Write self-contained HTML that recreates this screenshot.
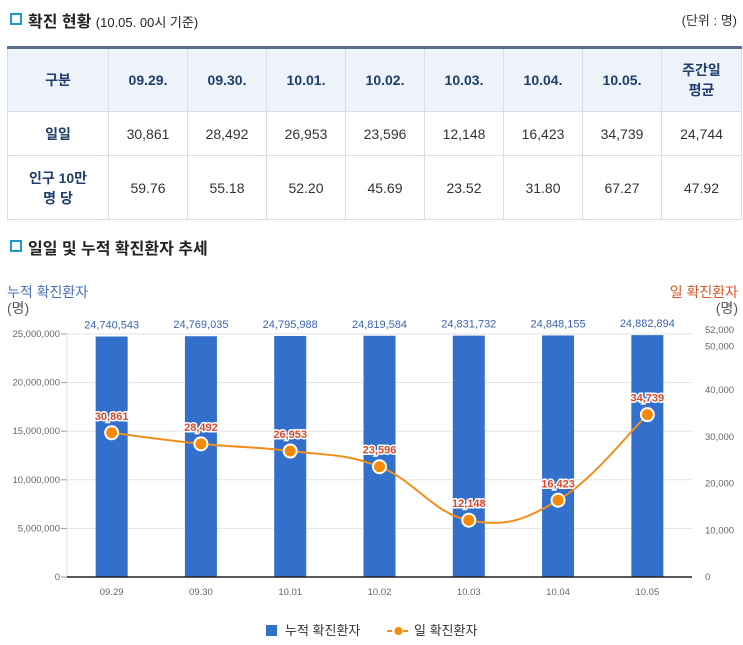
<!DOCTYPE html>
<html><head><meta charset="utf-8">
<style>
body{margin:0;width:743px;height:645px;background:#fff;font-family:"Liberation Sans","Noto Sans CJK KR",sans-serif;position:relative;overflow:hidden;color:#333}
.h{position:absolute;font-size:16px;color:#222;font-weight:bold}
.ico{position:absolute;width:8px;height:8px;border:2px solid #1a9bc7;background:#fff}
table{position:absolute;left:7px;top:46px;width:734px;border-collapse:collapse;font-size:14px;table-layout:fixed}
td,th{border:1px solid #d8dde6;text-align:center;padding:0;color:#333}
table{border-top:3px solid #5a6e8c}
th{background:#eef3fa;color:#1f3d6b;font-weight:bold;height:62px}
tr.r1 td{height:43px}tr.r2 td{height:63px}
td.l{font-weight:bold;color:#1f3d6b}
</style></head><body>
<div class="ico" style="left:10px;top:13px"></div>
<div class="h" style="left:28px;top:8px">확진 현황 <span style="font-size:13px;font-weight:normal">(10.05. 00시 기준)</span></div>
<div style="position:absolute;right:6px;top:10px;font-size:13px">(단위 : 명)</div>
<table>
<colgroup><col style="width:101px"><col span="7" style="width:79px"><col style="width:80px"></colgroup>
<tr><th>구분</th><th>09.29.</th><th>09.30.</th><th>10.01.</th><th>10.02.</th><th>10.03.</th><th>10.04.</th><th>10.05.</th><th>주간일<br>평균</th></tr>
<tr class="r1"><td class="l">일일</td><td>30,861</td><td>28,492</td><td>26,953</td><td>23,596</td><td>12,148</td><td>16,423</td><td>34,739</td><td>24,744</td></tr>
<tr class="r2"><td class="l">인구 10만<br>명 당</td><td>59.76</td><td>55.18</td><td>52.20</td><td>45.69</td><td>23.52</td><td>31.80</td><td>67.27</td><td>47.92</td></tr>
</table>
<div class="ico" style="left:10px;top:240px"></div>
<div class="h" style="left:28px;top:235px">일일 및 누적 확진환자 추세</div>
<svg id="c" width="743" height="645" style="position:absolute;left:0;top:0"></svg>
<script>
const categories=["09.29","09.30","10.01","10.02","10.03","10.04","10.05"];
const cumulative=[24740543,24769035,24795988,24819584,24831732,24848155,24882894];
const daily=[30861,28492,26953,23596,12148,16423,34739];
const leftTicks=[0,5000000,10000000,15000000,20000000,25000000];
const rightTicks=[0,10000,20000,30000,40000,50000,52000];
const svg=document.getElementById('c');const NS="http://www.w3.org/2000/svg";
const x0=67,x1=692,yb=577,yt=334;
const bw=(x1-x0)/categories.length;
const xc=i=>x0+bw*(i+0.5);
const yl=v=>yb-(v/25000000)*(yb-yt);
const yr=v=>yb-(v/52000)*(yb-yt);
const f=n=>n.toLocaleString('en-US');
function el(t,a,txt){const e=document.createElementNS(NS,t);for(const k in a)e.setAttribute(k,a[k]);if(txt!=null)e.textContent=txt;svg.appendChild(e);return e;}
let e;
e=el('text',{x:7,y:297,'font-size':14,fill:'#4a6fb5'},'누적 확진환자');


el('text',{x:7,y:313,'font-size':14,fill:'#555'},'(명)');
e=el('text',{x:738,y:297,'font-size':14,fill:'#d9542c','text-anchor':'end'},'일 확진환자');


el('text',{x:738,y:313,'font-size':14,fill:'#555','text-anchor':'end'},'(명)');
leftTicks.forEach(v=>{const y=yl(v);
 if(v>0){e=el('line',{x1:x0,x2:x1,y1:y,y2:y,stroke:'#e3e3e3'});}
 e=el('text',{x:60,y:y+3,'font-size':9.5,fill:'#666','text-anchor':'end'},f(v));
 
 
 el('line',{x1:61,x2:x0,y1:y,y2:y,stroke:'#999'});
});
el('line',{x1:x0,x2:x0,y1:yt,y2:yb,stroke:'#ddd'});
rightTicks.forEach(v=>{const y=yr(v);
 e=el('text',{x:705,y:y+(v===52000?-1:v===50000?6:3),'font-size':9.5,fill:'#666'},f(v));
 
 
});
categories.forEach((c,i)=>{
 e=el('rect',{x:xc(i)-16,y:yl(cumulative[i]),width:32,height:yb-yl(cumulative[i]),fill:'#3370cc'});
 
 
 e=el('text',{x:xc(i),y:yl(cumulative[i])-8,'font-size':11,fill:'#3b63b0','text-anchor':'middle'},f(cumulative[i]));
 
 
 e=el('text',{x:xc(i),y:yb+18,'font-size':9.5,fill:'#666','text-anchor':'middle'},c);
 
 
});
el('line',{x1:x0,x2:x1,y1:yb,y2:yb,stroke:'#222','stroke-width':1.5});
// smooth line (catmull-rom)
const pts=daily.map((v,i)=>[xc(i),yr(v)]);
let d=`M${pts[0][0]},${pts[0][1]}`;
for(let i=0;i<pts.length-1;i++){const p0=pts[Math.max(0,i-1)],p1=pts[i],p2=pts[i+1],p3=pts[Math.min(pts.length-1,i+2)];
 const t=0.2;d+=` C${p1[0]+(p2[0]-p0[0])*t},${p1[1]+(p2[1]-p0[1])*t} ${p2[0]-(p3[0]-p1[0])*t},${p2[1]-(p3[1]-p1[1])*t} ${p2[0]},${p2[1]}`;}
e=el('path',{d:d,fill:'none',stroke:'#f28c1a','stroke-width':2});


pts.forEach((p,i)=>{
 e=el('circle',{cx:p[0],cy:p[1],r:6.5,fill:'#f58a07',stroke:'#fff','stroke-width':2});
 
 
 e=el('text',{x:p[0],y:p[1]-13,'font-size':11,'font-weight':'bold',fill:'#d94a2c','text-anchor':'middle',stroke:'#fff','stroke-width':3,'paint-order':'stroke'},f(daily[i]));
 
 
});
e=el('rect',{x:266,y:625,width:11,height:11,fill:'#3370cc'});


e=el('text',{x:285,y:635,'font-size':13,fill:'#333'},'누적 확진환자');


el('line',{x1:387,x2:410,y1:631,y2:631,stroke:'#f28c1a','stroke-width':2,'stroke-dasharray':'5,3'});
el('circle',{cx:398.5,cy:631,r:4,fill:'#f58a07'});
e=el('text',{x:414,y:635,'font-size':13,fill:'#333'},'일 확진환자');


</script>
</body></html>
